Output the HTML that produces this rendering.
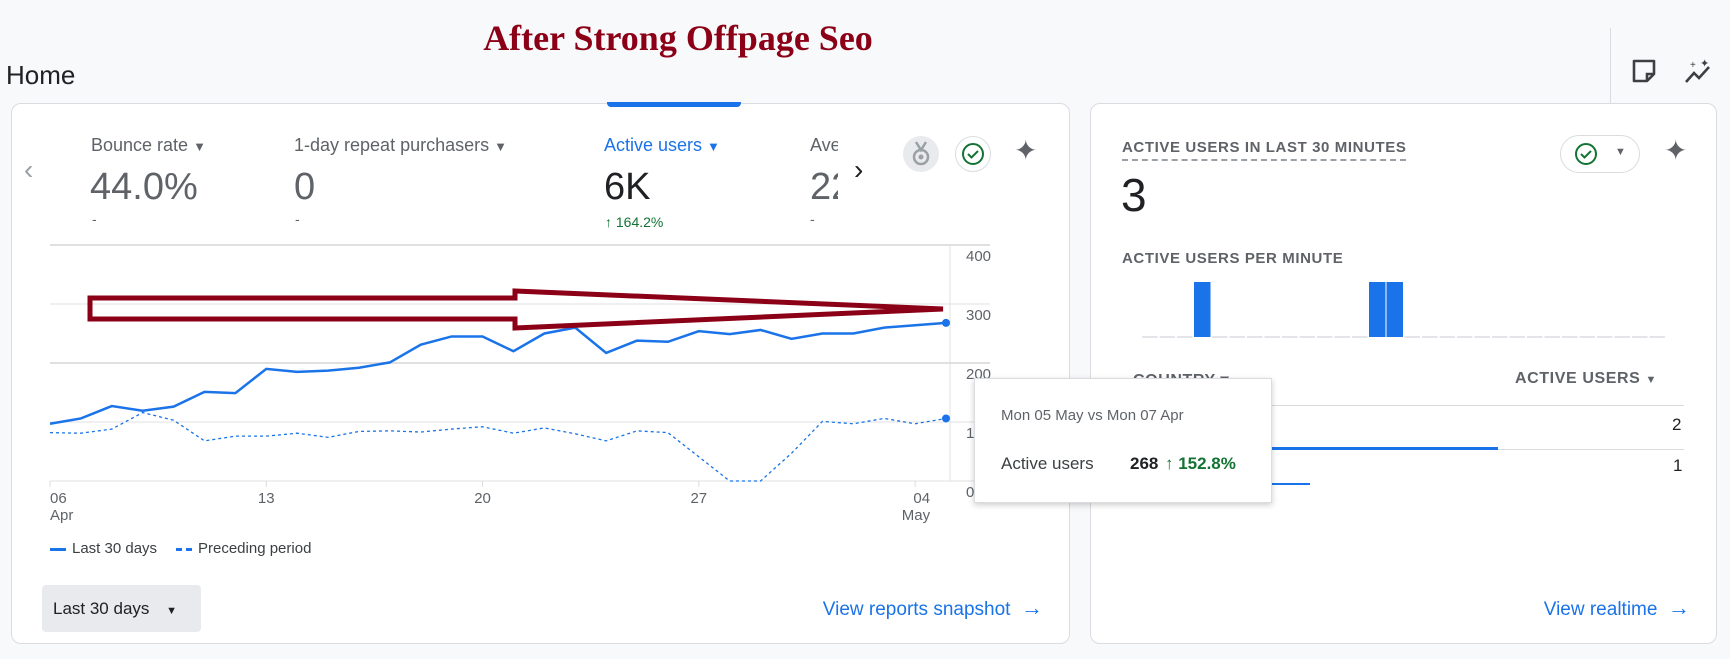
<!DOCTYPE html>
<html><head><meta charset="utf-8">
<style>
*{box-sizing:border-box;margin:0;padding:0}
body{width:1730px;height:659px;background:#f8f9fa;font-family:"Liberation Sans",Arial,sans-serif;position:relative;overflow:hidden;color:#202124}
.a{position:absolute;white-space:nowrap}
.card{position:absolute;background:#fff;border:1px solid #dadce0;border-radius:10px}
.lbl{font-size:18px;color:#5f6368}
.val{font-size:38px;color:#5f6368}
.sub{font-size:14px;color:#5f6368}
.caps{font-size:15px;letter-spacing:0.6px;color:#5f6368;font-weight:bold}
.blue{color:#1a73e8}
</style></head><body>
<div class="a" style="left:0;width:1356px;text-align:center;top:17px;font-family:'Liberation Serif',serif;font-weight:bold;font-size:36px;color:#8b0016">After Strong Offpage Seo</div>
<div class="a" style="left:6px;top:60px;font-size:26px;color:#202124">Home</div>
<div class="a" style="left:1610px;top:28px;width:1px;height:82px;background:#dadce0"></div>
<svg class="a" style="left:1631px;top:58px" width="26" height="26" viewBox="0 0 26 26"><path d="M3 3h20v13l-7 7H3z" fill="none" stroke="#3c4043" stroke-width="2.6" stroke-linejoin="round"/><path d="M16 23v-7h7" fill="none" stroke="#3c4043" stroke-width="2.6"/></svg>
<svg class="a" style="left:1683px;top:58px" width="30" height="28" viewBox="0 0 30 28"><path d="M3 24l8-9 5 5 10-11" fill="none" stroke="#3c4043" stroke-width="2.6"/><text x="7" y="10" font-size="10" fill="#3c4043">+</text><text x="17" y="9" font-size="11" fill="#3c4043">✦</text></svg>

<div class="card" style="left:11px;top:103px;width:1059px;height:541px"></div>
<div class="a" style="left:607px;top:102px;width:134px;height:5px;background:#1a73e8;border-radius:0 0 4px 4px"></div>
<div class="a" style="left:24px;top:154px;font-size:28px;color:#9aa0a6">&#x2039;</div>
<div class="a" style="left:854px;top:154px;font-size:28px;color:#202124">&#x203A;</div>
<div class="a lbl" style="left:91px;top:135px">Bounce rate <span style="font-size:13px">▼</span></div>
<div class="a val" style="left:90px;top:166px">44.0%</div>
<div class="a sub" style="left:92px;top:211px">-</div>
<div class="a lbl" style="left:294px;top:135px">1-day repeat purchasers <span style="font-size:13px">▼</span></div>
<div class="a val" style="left:294px;top:166px">0</div>
<div class="a sub" style="left:295px;top:211px">-</div>
<div class="a lbl blue" style="left:604px;top:135px">Active users <span style="font-size:13px">▼</span></div>
<div class="a val" style="left:604px;top:166px;color:#202124">6K</div>
<div class="a sub" style="left:605px;top:214px;color:#137333">&#x2191; 164.2%</div>
<div class="a" style="left:810px;top:128px;width:28px;height:100px;overflow:hidden">
<div class="lbl" style="position:absolute;top:7px">Average</div><div class="val" style="position:absolute;top:38px">22</div><div class="sub" style="position:absolute;top:83px">-</div></div>
<div class="a" style="left:903px;top:136px;width:36px;height:36px;border-radius:50%;background:#e8eaed;text-align:center"><svg width="20" height="26" style="margin-top:5px" viewBox="0 0 20 26"><path d="M5 1l5 8 5-8" fill="none" stroke="#9aa0a6" stroke-width="2.5"/><circle cx="10" cy="16" r="7" fill="none" stroke="#9aa0a6" stroke-width="2.5"/><circle cx="10" cy="16" r="2.5" fill="#9aa0a6"/></svg></div>
<div class="a" style="left:955px;top:136px;width:36px;height:36px;border-radius:50%;border:1px solid #dadce0;text-align:center"><svg width="24" height="24" style="margin-top:5px" viewBox="0 0 24 24"><circle cx="12" cy="12" r="10" fill="none" stroke="#137333" stroke-width="2"/><path d="M7 12l3.5 3.5L17 9" fill="none" stroke="#137333" stroke-width="2"/></svg></div>
<div class="a" style="left:1014px;top:134px;font-size:28px;color:#5f6368">✦</div>

<svg class="a" id="chart" style="left:0;top:0" width="1730" height="659"></svg>

<div class="a" style="left:50px;top:540px;font-size:15px;color:#3c4043"><span style="display:inline-block;width:16px;height:3px;background:#1a73e8;vertical-align:middle;margin-right:6px"></span>Last 30 days</div>
<div class="a" style="left:176px;top:540px;font-size:15px;color:#3c4043"><span style="display:inline-block;width:16px;height:3px;border-top:3px dashed #1a73e8;vertical-align:middle;margin-right:6px"></span>Preceding period</div>
<div class="a" style="left:42px;top:585px;width:159px;height:47px;background:#e8eaed;border-radius:4px;font-size:17px;line-height:47px;padding-left:11px;color:#202124">Last 30 days <span style="font-size:11px;margin-left:12px">▼</span></div>
<div class="a blue" style="right:687px;top:595px;font-size:19px">View reports snapshot &nbsp;<span style="font-size:22px;font-weight:bold">&#x2192;</span></div>

<div class="card" style="left:1090px;top:103px;width:627px;height:541px"></div>
<div class="a caps" style="left:1122px;top:139px;border-bottom:2px dashed #9aa0a6;padding-bottom:3px">ACTIVE USERS IN LAST 30 MINUTES</div>
<div class="a" style="left:1121px;top:168px;font-size:46px;color:#202124">3</div>
<div class="a" style="left:1560px;top:135px;width:80px;height:38px;border:1px solid #dadce0;border-radius:19px"><svg width="24" height="24" style="position:absolute;left:13px;top:6px" viewBox="0 0 24 24"><circle cx="12" cy="12" r="10" fill="none" stroke="#137333" stroke-width="2"/><path d="M7 12l3.5 3.5L17 9" fill="none" stroke="#137333" stroke-width="2"/></svg><span style="position:absolute;left:54px;top:10px;font-size:11px;color:#5f6368">▼</span></div>
<div class="a" style="left:1664px;top:134px;font-size:28px;color:#5f6368">✦</div>
<div class="a caps" style="left:1122px;top:250px">ACTIVE USERS PER MINUTE</div>
<div class="a caps" style="left:1133px;top:370px;font-size:16px">COUNTRY ▾</div>
<div class="a caps" style="right:73px;top:370px;font-size:16px">ACTIVE USERS <span style="font-size:11px">▼</span></div>
<div class="a" style="left:1122px;top:405px;width:562px;height:1px;background:#dadce0"></div>
<div class="a" style="left:1122px;top:414px;font-size:17px;color:#5f6368">India</div>
<div class="a" style="left:1672px;top:415px;font-size:17px">2</div>
<div class="a" style="left:1122px;top:449px;width:562px;height:1px;background:#dadce0"></div>
<div class="a" style="left:1122px;top:447px;width:376px;height:3px;background:#1a73e8"></div>
<div class="a" style="left:1122px;top:457px;font-size:17px;color:#5f6368">United States</div>
<div class="a" style="left:1673px;top:456px;font-size:17px">1</div>
<div class="a" style="left:1122px;top:483px;width:188px;height:2px;background:#1a73e8"></div>
<div class="a blue" style="right:40px;top:595px;font-size:19px">View realtime &nbsp;<span style="font-size:22px;font-weight:bold">&#x2192;</span></div>
<svg class="a" id="minchart" style="left:0;top:0" width="1730" height="659"></svg>

<div class="a" style="left:974px;top:378px;width:298px;height:125px;background:#fff;border:1px solid #dadce0;box-shadow:0 2px 6px rgba(0,0,0,0.2)">
<div class="a" style="left:26px;top:28px;font-size:15px;color:#5f6368">Mon 05 May vs Mon 07 Apr</div>
<div class="a" style="left:26px;top:75px;font-size:17px;color:#3c4043">Active users</div>
<div class="a" style="left:155px;top:75px;font-size:17px;font-weight:bold;color:#202124">268</div>
<div class="a" style="left:190px;top:75px;font-size:17px;font-weight:bold;color:#137333">&#x2191; 152.8%</div>
</div>

<script>
const NS='http://www.w3.org/2000/svg';
const xLabels=[["06","Apr"],["13",""],["20",""],["27",""],["04","May"]];
const xLabelIdx=[0,7,14,21,28];
const yTicks=[0,100,200,300,400];
const last30=[97,106,127,119,126,151,149,190,185,187,192,201,231,245,245,220,250,260,217,238,236,254,249,256,241,250,250,260,264,268];
const preceding=[82,81,88,116,103,68,76,76,81,74,84,85,83,88,92,81,90,80,68,85,82,41,0,0,47,101,97,106,97,106];
const perMinute=[0,0,0,1,0,0,0,0,0,0,0,0,0,1,1,0,0,0,0,0,0,0,0,0,0,0,0,0,0,0];

const svg=document.getElementById('chart');
const X0=50,X1=946,Y0=481,Y1=245,YMAX=400;
const xs=i=>X0+(X1-X0)*i/(last30.length-1);
const ys=v=>Y0-(Y0-Y1)*v/YMAX;
function mk(tag,attrs,parent){const e=document.createElementNS(NS,tag);for(const k in attrs)e.setAttribute(k,attrs[k]);(parent||svg).appendChild(e);return e;}
yTicks.forEach(t=>{
  const g=mk('line',{x1:X0,x2:X1+44,y1:ys(t),y2:ys(t),stroke:'#e0e0e0','stroke-width':t%200===0&&t>0?2:1});
  
  
  const tx=mk('text',{x:966,y:ys(t)+16,'font-size':15,fill:'#5f6368','font-family':'Liberation Sans'});
  tx.textContent=t;
  
  
});
mk('line',{x1:X1+4,x2:X1+4,y1:Y1,y2:Y0,stroke:'#e0e0e0'});
xLabelIdx.forEach((idx,k)=>{
  const x=xs(idx);
  mk('line',{x1:x,x2:x,y1:Y0,y2:Y0+6,stroke:'#dadce0'});
  const anchor=k===0?'start':(k===xLabels.length-1?'end':'middle');
  const ax=k===xLabels.length-1?x+15:x;
  const t1=mk('text',{x:ax,y:Y0+22,'font-size':15,fill:'#5f6368','text-anchor':anchor,'font-family':'Liberation Sans'});
  t1.textContent=xLabels[k][0];
  
  
  if(xLabels[k][1]){const t2=mk('text',{x:ax,y:Y0+39,'font-size':15,fill:'#5f6368','text-anchor':anchor,'font-family':'Liberation Sans'});t2.textContent=xLabels[k][1];
  
  }
});
const p1=mk('polyline',{points:last30.map((v,i)=>xs(i)+','+ys(v)).join(' '),fill:'none',stroke:'#1a73e8','stroke-width':2.5});


const p2=mk('polyline',{points:preceding.map((v,i)=>xs(i)+','+ys(v)).join(' '),fill:'none',stroke:'#1a73e8','stroke-width':1.3,'stroke-dasharray':'3,3'});


const n=last30.length-1;
const d1=mk('circle',{cx:xs(n),cy:ys(last30[n]),r:4,fill:'#1a73e8'});


const d2=mk('circle',{cx:xs(n),cy:ys(preceding[n]),r:4,fill:'#1a73e8'});


const arrow=mk('polygon',{points:'90,298 515,298 515,291 943,309 515,328 515,319 90,319',fill:'none',stroke:'#8b0016','stroke-width':5,'stroke-linejoin':'miter'});



const ms=document.getElementById('minchart');
const MX0=1141,MX1=1666,MB=337,MT=282;
const slot=(MX1-MX0)/perMinute.length;
const maxM=Math.max(1,...perMinute);
perMinute.forEach((v,i)=>{
  const x=MX0+i*slot;
  if(v>0){const r=mk('rect',{x:x+0.5,y:MB-(MB-MT)*v/maxM,width:slot-1,height:(MB-MT)*v/maxM,fill:'#1a73e8'},ms);
    
    }
  else{const l=mk('line',{x1:x+1,x2:x+slot-1,y1:MB,y2:MB,stroke:'#dadce0','stroke-width':1.5},ms);
    
    }
});
</script>
</body></html>
